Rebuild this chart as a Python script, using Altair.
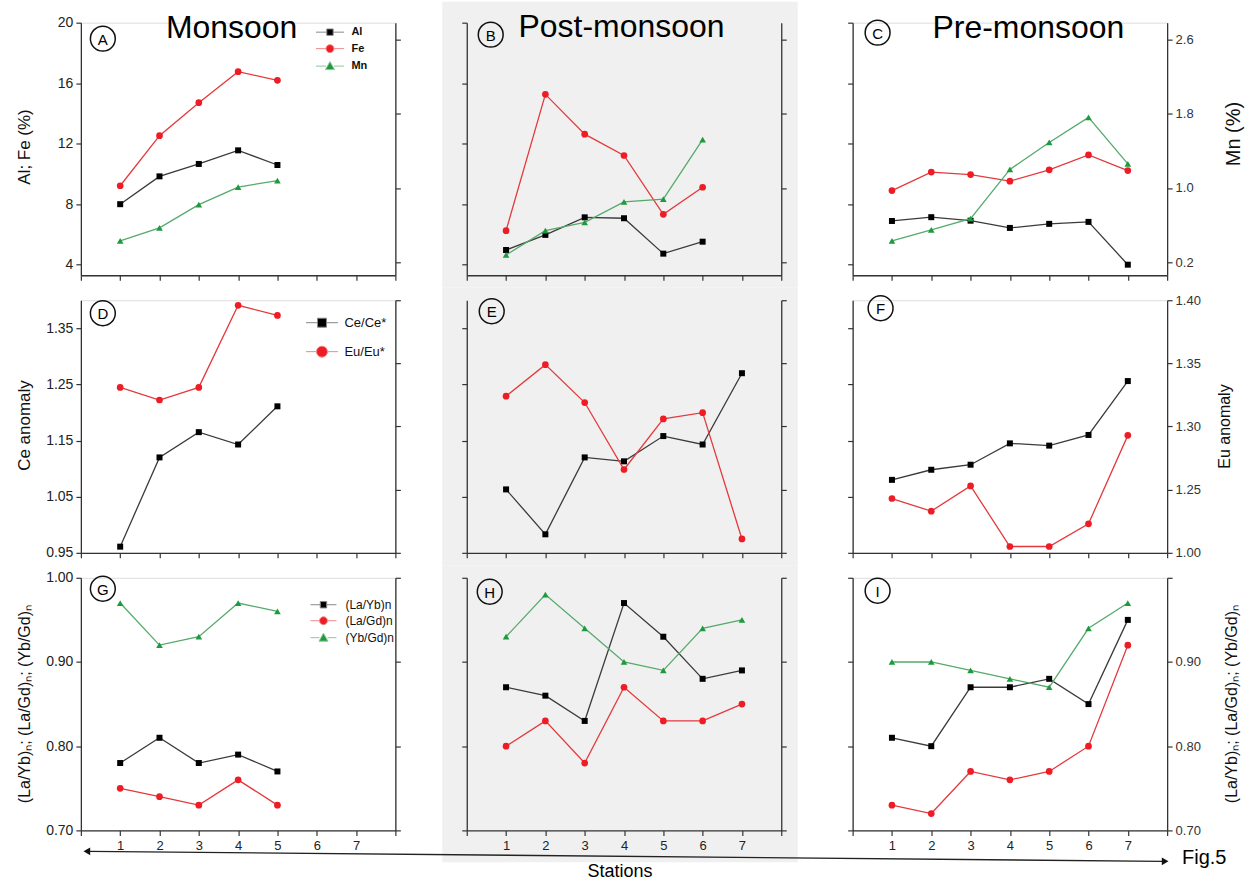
import altair as alt
import pandas as pd

# ---------------- data ----------------
STATIONS = [1, 2, 3, 4, 5, 6, 7]
SEASONS = ["Monsoon", "Post-monsoon", "Pre-monsoon"]
LETTERS = ["A", "B", "C", "D", "E", "F", "G", "H", "I"]

# Row 1: Al, Fe (%) on left axis, Mn (%) on right axis
al_monsoon = [8.0, 9.84, 10.66, 11.56, 10.59]
fe_monsoon = [9.22, 12.53, 14.71, 16.76, 16.19]
mn_monsoon = [0.43, 0.57, 0.82, 1.01, 1.08]
al_post = [4.97, 5.97, 7.13, 7.07, 4.73, 5.52]
fe_post = [6.25, 15.26, 12.63, 11.22, 7.33, 9.12]
mn_post = [0.28, 0.54, 0.63, 0.85, 0.88, 1.52]
al_pre = [6.89, 7.14, 6.91, 6.43, 6.70, 6.83, 4.0]
fe_pre = [8.90, 10.12, 9.96, 9.52, 10.27, 11.26, 10.22]
mn_pre = [0.43, 0.55, 0.67, 1.20, 1.49, 1.76, 1.26]

# Row 2: Ce anomaly (left axis), Eu anomaly (right axis)
ce_monsoon = [0.961, 1.120, 1.165, 1.143, 1.211]
eu_monsoon = [1.331, 1.321, 1.331, 1.396, 1.388]
ce_post = [1.063, 0.983, 1.120, 1.113, 1.158, 1.143, 1.270]
eu_post = [1.324, 1.349, 1.319, 1.266, 1.306, 1.311, 1.211]
ce_pre = [1.080, 1.098, 1.107, 1.145, 1.141, 1.160, 1.256]
eu_pre = [1.243, 1.233, 1.253, 1.205, 1.205, 1.223, 1.293]

# Row 3: normalised REE ratios
layb_monsoon = [0.78, 0.81, 0.78, 0.79, 0.77]
lagd_monsoon = [0.75, 0.74, 0.73, 0.76, 0.73]
ybgd_monsoon = [0.97, 0.92, 0.93, 0.97, 0.96]
layb_post = [0.87, 0.86, 0.83, 0.97, 0.93, 0.88, 0.89]
lagd_post = [0.80, 0.83, 0.78, 0.87, 0.83, 0.83, 0.85]
ybgd_post = [0.93, 0.98, 0.94, 0.90, 0.89, 0.94, 0.95]
layb_pre = [0.81, 0.80, 0.87, 0.87, 0.88, 0.85, 0.95]
lagd_pre = [0.73, 0.72, 0.77, 0.76, 0.77, 0.80, 0.92]
ybgd_pre = [0.90, 0.90, 0.89, 0.88, 0.87, 0.94, 0.97]

LEGEND_ROW1 = ["Al", "Fe", "Mn"]
LEGEND_ROW2 = ["Ce/Ce*", "Eu/Eu*"]
LEGEND_ROW3 = ["(La/Yb)n", "(La/Gd)n", "(Yb/Gd)n"]

# ---------------- style ----------------
FONT = "Liberation Sans"
W, H = 315, 253
BLACK = ("#3a3a3a", "#000000")
RED = ("#e4393c", "#ee1c25")
GREEN = ("#55aa6a", "#1e9a3e")
PT_SIZE = {"square": 36, "circle": 45, "triangle-up": 44}
GREY = "#f0f0f0"

ROWS = [
    dict(left=dict(domain=[3.3, 20], values=[4, 8, 12, 16, 20], fmt="d",
                   title="Al; Fe (%)", tx=-56, ty=124, ts=17),
         right=dict(domain=[0.06, 2.78], values=[0.2, 1.0, 1.8, 2.6], fmt=".1f",
                    title="Mn (%)", tx=66, ty=111, ts=20)),
    dict(left=dict(domain=[0.95, 1.40], values=[0.95, 1.05, 1.15, 1.25, 1.35], fmt=".2f",
                   title="Ce anomaly", tx=-56, ty=125, ts=17),
         right=dict(domain=[1.20, 1.40], values=[1.20, 1.25, 1.30, 1.35, 1.40], fmt=".2f",
                    expr="datum.value < 1.22 ? '1.00' : datum.label",
                    title="Eu anomaly", tx=57, ty=126, ts=16)),
    dict(left=dict(domain=[0.70, 1.00], values=[0.70, 0.80, 0.90, 1.00], fmt=".2f",
                   title="(La/Yb)ₙ; (La/Gd)ₙ; (Yb/Gd)ₙ", tx=-56, ty=126, ts=16),
         right=dict(domain=[0.70, 1.00], values=[0.70, 0.80, 0.90, 1.00], fmt=".2f",
                    expr="datum.value > 0.95 ? '' : datum.label",
                    title="(La/Yb)ₙ; (La/Gd)ₙ; (Yb/Gd)ₙ", tx=64, ty=126, ts=16)),
]

SERIES = [
    [dict(left=[(al_monsoon, BLACK, "square"), (fe_monsoon, RED, "circle")], right=[(mn_monsoon, GREEN, "triangle-up")]),
     dict(left=[(al_post, BLACK, "square"), (fe_post, RED, "circle")], right=[(mn_post, GREEN, "triangle-up")]),
     dict(left=[(al_pre, BLACK, "square"), (fe_pre, RED, "circle")], right=[(mn_pre, GREEN, "triangle-up")])],
    [dict(left=[(ce_monsoon, BLACK, "square")], right=[(eu_monsoon, RED, "circle")]),
     dict(left=[(ce_post, BLACK, "square")], right=[(eu_post, RED, "circle")]),
     dict(left=[(ce_pre, BLACK, "square")], right=[(eu_pre, RED, "circle")])],
    [dict(left=[(layb_monsoon, BLACK, "square"), (lagd_monsoon, RED, "circle")], right=[(ybgd_monsoon, GREEN, "triangle-up")]),
     dict(left=[(layb_post, BLACK, "square"), (lagd_post, RED, "circle")], right=[(ybgd_post, GREEN, "triangle-up")]),
     dict(left=[(layb_pre, BLACK, "square"), (lagd_pre, RED, "circle")], right=[(ybgd_pre, GREEN, "triangle-up")])],
]

LETTER_POS = [(22, 16), (24, 12), (25, 10), (22, 13), (25, 11), (28, 8), (22, 11), (23, 14), (25, 13)]
TITLE_POS = [(151, 15), (155, 14), (176, 15)]
GREY_Y = [(-21, 265.5), (-12.5, 265.5), (-12.5, 285)]

one = pd.DataFrame({"d": [0]})


def axis(**kw):
    base = dict(domainColor="#333333", domainWidth=1.3, tickColor="#333333", tickWidth=1.2,
                tickSize=5, labelFont=FONT, labelFontSize=14, labelColor="#222222",
                labelPadding=3, grid=False, labelFlush=False, labelOverlap=False,
                titleFont=FONT, titleFontWeight="normal", titleColor="#111111", zindex=1)
    base.update(kw)
    return alt.Axis(**base)


def xenc(show_labels):
    return alt.X("station:Q", scale=alt.Scale(domain=[0, 8], nice=False, zero=False),
                 axis=axis(values=list(range(9)), labels=show_labels, title=None,
                           labelExpr="datum.value >= 1 && datum.value <= 7 ? datum.label : ''",
                           labelPadding=4, labelFontSize=13))


def yenc(spec, side, show):
    kw = dict(orient=side, values=spec["values"], labels=show, format=spec["fmt"])
    if "expr" in spec:
        kw["labelExpr"] = spec["expr"]
    if side == "right":
        kw.update(labelFontSize=13, labelColor="#333333")
    if show:
        kw.update(title=spec["title"], titleX=spec["tx"], titleY=spec["ty"], titleAngle=270,
                  titleBaseline="middle", titleAlign="center", titleFontSize=spec["ts"])
    else:
        kw["title"] = None
    return alt.Y("value:Q", scale=alt.Scale(domain=spec["domain"], nice=False, zero=False),
                 axis=axis(**kw))


def series(vals, colors, shape, xe, ye):
    df = pd.DataFrame({"station": STATIONS[:len(vals)], "value": vals})
    c = alt.Chart(df)
    line = c.mark_line(color=colors[0], strokeWidth=1.3).encode(x=xe, y=ye)
    pts = c.mark_point(shape=shape, filled=True, size=PT_SIZE[shape], color=colors[1],
                       opacity=1).encode(x=xe, y=ye)
    return [line, pts]


def text(txt, x, y, size, align="center", baseline="middle"):
    return alt.Chart(one).mark_text(text=txt, font=FONT, fontSize=size, align=align,
                                    baseline=baseline, color="#000000").encode(
        x=alt.value(x), y=alt.value(y))


def letter(ch, x, y):
    circ = alt.Chart(one).mark_point(shape="circle", size=620, filled=False, color="#111111",
                                     strokeWidth=1.5, opacity=1).encode(x=alt.value(x), y=alt.value(y))
    return [circ, text(ch, x, y + 1, 15)]


def tail_paths(t, s, r):
    sq = f"M-{t},0H-{s}M-{s},-{s}H{s}V{s}H-{s}ZM{s},0H{t}"
    ci = f"M-{t},0H-{r}M{r},0H{t}M{r},0A{r},{r},0,1,1,-{r},0A{r},{r},0,1,1,{r},0Z"
    tr = f"M-{t},0H-{r}M{r},0H{t}M0,-{r + 0.5}L{r + 0.5},{r - 0.5}H-{r + 0.5}Z"
    return [sq, ci, tr]


def legend_layer(names, fills, strokes, paths, lx, ly, fsize, rowpad, weight):
    df = pd.DataFrame({"series": names, "k": list(range(len(names)))})
    leg = alt.Legend(title=None, orient="none", legendX=lx, legendY=ly, padding=0,
                     symbolSize=4, symbolStrokeWidth=1, labelFont=FONT, labelFontSize=fsize,
                     labelFontWeight=weight, labelColor="#111111", labelOffset=16,
                     rowPadding=rowpad, symbolOpacity=1)
    return alt.Chart(df).transform_filter("datum.k < 0").mark_point(filled=True, opacity=1).encode(
        fill=alt.Fill("series:N", scale=alt.Scale(domain=names, range=fills), legend=leg),
        stroke=alt.Stroke("series:N", scale=alt.Scale(domain=names, range=strokes), legend=leg),
        shape=alt.Shape("series:N", scale=alt.Scale(domain=names, range=paths), legend=leg),
    )


LEGENDS = [
    legend_layer(LEGEND_ROW1, [BLACK[1], RED[1], GREEN[1]], ["#888888", "#f08a8a", "#8cc79b"],
                 tail_paths(14, 3.2, 4), 244, 4, 11, 4.5, "bold"),
    legend_layer(LEGEND_ROW2, [BLACK[1], RED[1]], ["#888888", "#f08a8a"],
                 tail_paths(16, 4.5, 5.5)[:2], 235, 16, 13, 14, "normal"),
    legend_layer(LEGEND_ROW3, [BLACK[1], RED[1], GREEN[1]], ["#888888", "#f08a8a", "#8cc79b"],
                 tail_paths(13, 3.2, 4), 237, 21, 12, 4, "normal"),
]


def build_panel(r, c):
    spec = ROWS[r]
    xe = xenc(r == 2)
    yl = yenc(spec["left"], "left", c == 0)
    yr = yenc(spec["right"], "right", c == 2)
    left = []
    if c == 1:
        y0, y1 = GREY_Y[r]
        left.append(alt.Chart(one).mark_rect(color=GREY).encode(
            x=alt.value(-24.5), x2=alt.value(331.5), y=alt.value(y0), y2=alt.value(y1)))
    for vals, col, shp in SERIES[r][c]["left"]:
        left += series(vals, col, shp, xe, yl)
    if c == 0:
        left.append(LEGENDS[r])
    lx, ly = LETTER_POS[r * 3 + c]
    left += letter(LETTERS[r * 3 + c], lx, ly)
    if r == 0:
        tx, ty = TITLE_POS[c]
        left.append(text(SEASONS[c], tx, ty, 32, baseline="alphabetic"))
    if r == 2 and c == 2:
        # bottom "Stations" arrow and figure tag
        left.append(alt.Chart(one).mark_rect(opacity=0).encode(
            x=alt.value(-853), x2=alt.value(397), y=alt.value(300), y2=alt.value(315)))
        left.append(alt.Chart(one).mark_rule(color="#222222", strokeWidth=1.4).encode(
            x=alt.value(-765), x2=alt.value(310), y=alt.value(274), y2=alt.value(284)))
        left.append(alt.Chart(one).mark_point(shape="triangle-left", filled=True, size=60,
                                              color="#111111", opacity=1).encode(
            x=alt.value(-767), y=alt.value(274)))
        left.append(alt.Chart(one).mark_point(shape="triangle-right", filled=True, size=60,
                                              color="#111111", opacity=1).encode(
            x=alt.value(313), y=alt.value(284)))
        left.append(text("Stations", -233, 295, 18))
        left.append(text("Fig.5", 330, 281, 20, align="left"))
    right = []
    for vals, col, shp in SERIES[r][c]["right"]:
        right += series(vals, col, shp, xe, yr)
    return alt.layer(alt.layer(*left), alt.layer(*right)).resolve_scale(
        y="independent").properties(width=W, height=H)


panels = [build_panel(r, c) for r in range(3) for c in range(3)]

chart = alt.concat(
    *panels, columns=3, spacing={"row": 25, "column": 71.5}, bounds="flush", padding=0
).resolve_scale(
    fill="independent", stroke="independent", shape="independent"
).configure_view(stroke=None).configure(font=FONT)

chart.save("out.html", embed_options={"renderer": "svg", "actions": False})
